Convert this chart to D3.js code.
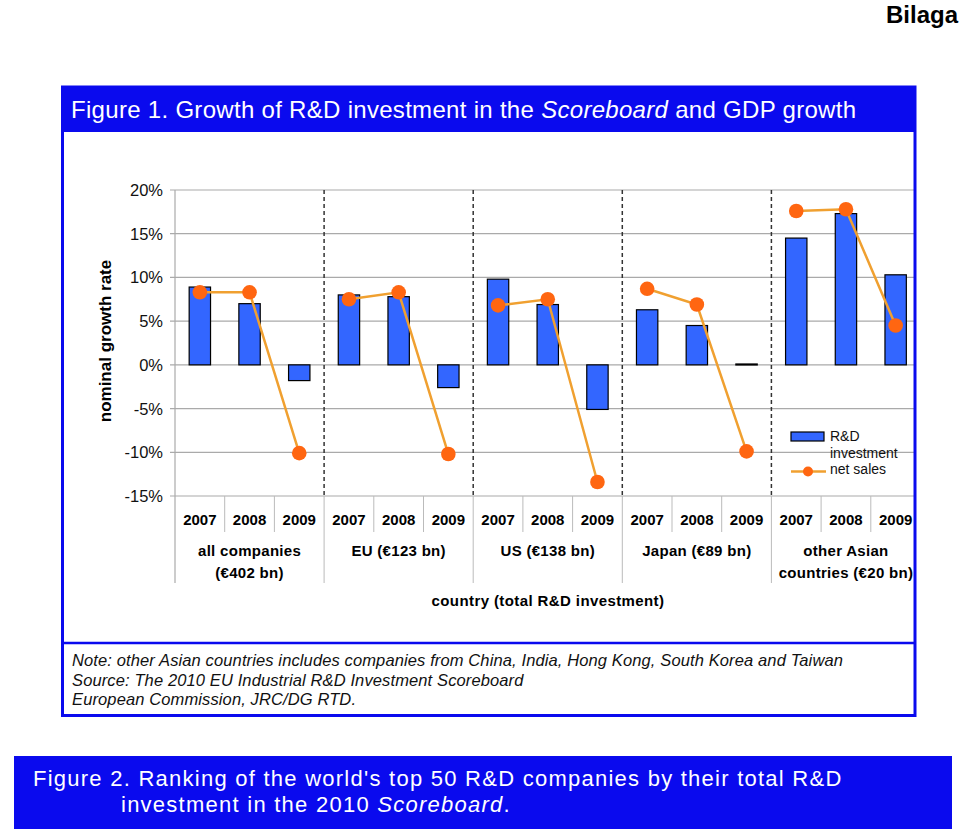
<!DOCTYPE html>
<html>
<head>
<meta charset="utf-8">
<script src="https://cdn.jsdelivr.net/npm/d3@7"></script>
<style>
  html, body { margin: 0; padding: 0; background: #fff; }
  svg { display: block; }
  text { font-family: "Liberation Sans", Arial, sans-serif; }
</style>
</head>
<body>
<svg id="chart" width="960" height="832"></svg>
<script>
// ---------- DATA ----------
const years = ["2007", "2008", "2009"];
const groupLabels = [
  ["all companies", "(€402 bn)"],
  ["EU (€123 bn)"],
  ["US (€138 bn)"],
  ["Japan (€89 bn)"],
  ["other Asian", "countries (€20 bn)"]
];
const rdInvestment = [
  [8.9, 7.0, -1.8],
  [8.0, 7.8, -2.6],
  [9.8, 6.9, -5.1],
  [6.3, 4.5, 0.1],
  [14.5, 17.3, 10.3]
];
const netSales = [
  [8.3, 8.3, -10.1],
  [7.5, 8.3, -10.2],
  [6.8, 7.5, -13.4],
  [8.7, 6.9, -9.9],
  [17.6, 17.8, 4.5]
];
const yTicks = [20, 15, 10, 5, 0, -5, -10, -15];
const legendLabels = ["R&D", "investment", "net sales"];

// ---------- LAYOUT ----------
const svg = d3.select("#chart");
const BLUE = "#0a0aee";
const BAR = "#3366ff";
const LINE = "#f0a030";
const DOT = "#ff6611";

const plotLeft = 175, plotTop = 190, plotBottom = 496;
const step = 49.7;
const nCats = groupLabels.length * years.length;
const plotRight = plotLeft + step * nCats;

const cats = [];
groupLabels.forEach((g, gi) => years.forEach((yr, yi) => cats.push({ gi, yi, key: gi + "-" + yr, year: yr })));

const x = d3.scaleBand().domain(cats.map(d => d.key)).range([plotLeft, plotRight]).paddingInner(0).paddingOuter(0);
const y = d3.scaleLinear().domain([-15, 20]).range([plotBottom, plotTop]);
const barW = x.bandwidth() * 0.43;

// Bilaga
svg.append("text").attr("x", 958).attr("y", 23).attr("text-anchor", "end")
  .attr("font-size", 24).attr("font-weight", "bold").text("Bilaga");

// Clip for plot (frame right edge)
svg.append("defs").append("clipPath").attr("id", "clip")
  .append("rect").attr("x", 0).attr("y", 0).attr("width", 914).attr("height", 832);

const g = svg.append("g").attr("clip-path", "url(#clip)");

// gridlines
g.selectAll(".grid").data(yTicks).join("line")
  .attr("x1", plotLeft - 5).attr("x2", plotRight)
  .attr("y1", d => y(d)).attr("y2", d => y(d))
  .attr("stroke", "#aaaaaa").attr("stroke-width", 1.2);

// y tick labels
svg.selectAll(".ytl").data(yTicks).join("text")
  .attr("x", 163).attr("y", d => y(d) + 6)
  .attr("text-anchor", "end").attr("font-size", 16.5).attr("fill", "#111")
  .text(d => d + "%");

// y axis title
svg.append("text")
  .attr("transform", `translate(111,${(plotTop + plotBottom) / 2 - 2}) rotate(-90)`)
  .attr("text-anchor", "middle").attr("font-size", 17).attr("font-weight", "bold")
  .text("nominal growth rate");

// left axis line
g.append("line").attr("x1", plotLeft).attr("x2", plotLeft).attr("y1", plotTop).attr("y2", 583)
  .attr("stroke", "#aaaaaa").attr("stroke-width", 1.2);

// separators below axis
const bounds = d3.range(1, nCats + 1);
g.selectAll(".sep").data(bounds).join("line")
  .attr("x1", i => plotLeft + i * x.step()).attr("x2", i => plotLeft + i * x.step())
  .attr("y1", plotBottom).attr("y2", i => (i % 3 === 0 ? 583 : 532))
  .attr("stroke", "#bbbbbb").attr("stroke-width", 1);

// dashed group boundaries
g.selectAll(".dash").data([3, 6, 9, 12]).join("line")
  .attr("x1", i => plotLeft + i * x.step()).attr("x2", i => plotLeft + i * x.step())
  .attr("y1", plotTop).attr("y2", plotBottom)
  .attr("stroke", "#333").attr("stroke-width", 1.5).attr("stroke-dasharray", "4,3");

// bars
g.selectAll(".bar").data(cats).join("rect")
  .attr("x", d => x(d.key) + (x.bandwidth() - barW) / 2)
  .attr("width", barW)
  .attr("y", d => y(Math.max(0, rdInvestment[d.gi][d.yi])))
  .attr("height", d => Math.max(1, Math.abs(y(rdInvestment[d.gi][d.yi]) - y(0))))
  .attr("fill", BAR).attr("stroke", "#000").attr("stroke-width", 1.2);

// lines per group
const line = d3.line().x(d => d[0]).y(d => d[1]);
groupLabels.forEach((gl, gi) => {
  const pts = years.map((yr, yi) => [x(gi + "-" + yr) + x.bandwidth() / 2, y(netSales[gi][yi])]);
  g.append("path").attr("d", line(pts)).attr("fill", "none")
    .attr("stroke", LINE).attr("stroke-width", 2.5);
});
g.selectAll(".dot").data(cats).join("circle")
  .attr("cx", d => x(d.key) + x.bandwidth() / 2)
  .attr("cy", d => y(netSales[d.gi][d.yi]))
  .attr("r", 7.3).attr("fill", DOT);

// year labels
g.selectAll(".yl").data(cats).join("text")
  .attr("x", d => x(d.key) + x.bandwidth() / 2).attr("y", 525)
  .attr("text-anchor", "middle").attr("font-size", 15).attr("font-weight", "bold")
  .text(d => d.year);

// group labels
groupLabels.forEach((lines, gi) => {
  const cx = plotLeft + (gi * 3 + 1.5) * x.step();
  lines.forEach((t, li) => {
    g.append("text").attr("x", cx).attr("y", 556 + li * 21.5)
      .attr("text-anchor", "middle").attr("font-size", 15).attr("font-weight", "bold")
      .attr("letter-spacing", 0.3).text(t);
  });
});
svg.append("text").attr("x", 548).attr("y", 606).attr("text-anchor", "middle")
  .attr("font-size", 15).attr("font-weight", "bold").attr("letter-spacing", 0.4)
  .text("country (total R&D investment)");

// legend
svg.append("rect").attr("x", 791).attr("y", 432).attr("width", 33).attr("height", 9)
  .attr("fill", BAR).attr("stroke", "#000").attr("stroke-width", 1.2);
svg.append("line").attr("x1", 791).attr("x2", 826).attr("y1", 471.5).attr("y2", 471.5)
  .attr("stroke", LINE).attr("stroke-width", 2.5);
svg.append("circle").attr("cx", 808).attr("cy", 471.5).attr("r", 5).attr("fill", DOT);
svg.selectAll(".lg").data(legendLabels).join("text")
  .attr("x", 830).attr("y", (d, i) => [441, 458, 474][i])
  .attr("font-size", 14).attr("fill", "#111").text(d => d);

// ---------- FRAME ----------
svg.append("rect").attr("x", 62).attr("y", 87).attr("width", 854).attr("height", 45).attr("fill", BLUE);
const title = svg.append("text").attr("x", 71).attr("y", 118).attr("font-size", 24)
  .attr("letter-spacing", 0.3).attr("fill", "#fff");
title.append("tspan").text("Figure 1. Growth of R&D investment in the ");
title.append("tspan").attr("font-style", "italic").text("Scoreboard");
title.append("tspan").text(" and GDP growth");

svg.append("rect").attr("x", 62.5).attr("y", 87).attr("width", 852.5).attr("height", 628.5)
  .attr("fill", "none").attr("stroke", BLUE).attr("stroke-width", 3);
svg.append("line").attr("x1", 62).attr("x2", 916).attr("y1", 643).attr("y2", 643)
  .attr("stroke", BLUE).attr("stroke-width", 2.5);

const notes = [
  "Note: other Asian countries includes companies from China, India, Hong Kong, South Korea and Taiwan",
  "Source: The 2010 EU Industrial R&D Investment Scoreboard",
  "European Commission, JRC/DG RTD."
];
svg.selectAll(".note").data(notes).join("text")
  .attr("x", 72).attr("y", (d, i) => 666 + i * 19.5)
  .attr("font-size", 16.5).attr("letter-spacing", 0.12).attr("font-style", "italic").attr("fill", "#111").text(d => d);

// Figure 2 band
svg.append("rect").attr("x", 14).attr("y", 756).attr("width", 938).attr("height", 73).attr("fill", BLUE);
svg.append("text").attr("x", 33).attr("y", 786).attr("font-size", 22).attr("letter-spacing", 1.25).attr("fill", "#fff")
  .text("Figure 2.  Ranking of the world's top 50 R&D companies by their total R&D");
const f2 = svg.append("text").attr("x", 121).attr("y", 812).attr("font-size", 22).attr("letter-spacing", 1.25).attr("fill", "#fff");
f2.append("tspan").text("investment in the 2010 ");
f2.append("tspan").attr("font-style", "italic").text("Scoreboard");
f2.append("tspan").text(".");
</script>
</body>
</html>
